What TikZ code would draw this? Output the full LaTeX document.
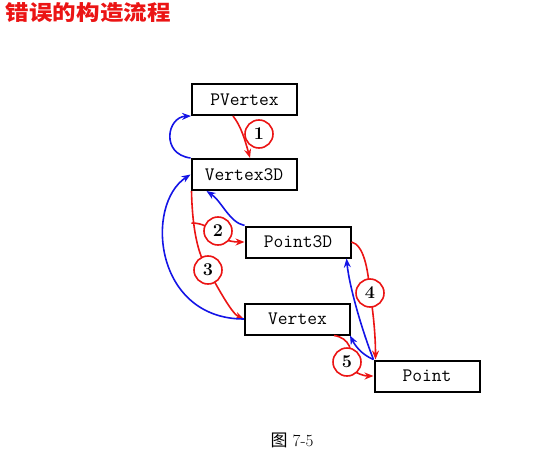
\documentclass[tikz,border=0pt]{standalone}
\usepackage{fontspec}
\newfontfamily\cjk{Noto Sans CJK SC}
\usetikzlibrary{arrows.meta,calc}
\definecolor{myred}{RGB}{235,20,20}
\definecolor{myblue}{RGB}{20,20,230}
\begin{document}
\begin{tikzpicture}[x=1pt,y=-1pt,
  cls/.style={draw,line width=2pt,minimum width=105pt,minimum height=31pt,inner sep=0pt,font=\fontsize{19}{19}\selectfont\ttfamily},
  rl/.style={draw=myred,line width=1.6pt,-{Stealth[length=9pt,width=7pt]}},
  bl/.style={draw=myblue,line width=1.6pt,-{Stealth[length=9pt,width=7pt]}},
  num/.style={circle,draw=myred,line width=1.6pt,fill=white,minimum size=28pt,inner sep=0pt,font=\fontsize{18}{18}\selectfont\bfseries}
]
\useasboundingbox (0,0) rectangle (535,460);
\node[anchor=west,text=myred,font=\cjk\bfseries\fontsize{21}{21}\selectfont,xscale=1.12] (title) at (2,13) {错误的构造流程};

\node[cls] (pv) at (244.5,99.5) {PVertex};
\node[cls] (v3) at (244,174.5) {Vertex3D};
\node[cls] (p3) at (298,242) {Point3D};
\node[cls] (vx) at (297.5,319) {Vertex};
\node[cls] (pt) at (427,376) {Point};

\coordinate (k1) at (259,134);
\coordinate (k2) at (218,231);
\coordinate (k3) at (208,270);
\coordinate (k4) at (370,293);
\coordinate (k5) at (347,362);

% 1
\draw[rl] ($(pv.south)+(-11.5,0)$) .. controls +(8,10) and +(-5,-18) .. ($(v3.north)+(6,0)$);
\draw[bl] (v3.north west) .. controls +(-30,-4) and +(-24,1) .. (pv.south west);
% 2
\draw[rl] ($(v3.south west)+(1,32)$) .. controls +(23,0) and +(-30,0) .. (p3.west);
\draw[bl] (p3.north west) .. controls +(-15,-3) and +(15,10) .. ($(v3.south west)+(16,0)$);
% 3
\draw[rl] ($(v3.south west)+(1,0)$) .. controls +(1,45) and +(-8,-12) .. (k3) .. controls +(10,18) and +(-12,-5) .. (vx.west);
\draw[bl] (vx.west) .. controls +(-90,0) and +(-46,30) .. (v3.west);
% 4
\draw[rl] (p3.east) .. controls +(12,3) and +(-2,-25) .. (k4) .. controls +(3,17) and +(0,-25) .. ($(pt.north west)+(2,0)$);
\draw[bl] (pt.north west) .. controls +(-10,-25) and +(3,30) .. ($(p3.south east)+(-5,0)$);
% 5
\draw[rl] ($(vx.south east)+(-17,0)$) .. controls +(15,2) and +(8,-10) .. (k5) .. controls +(3,10) and +(-10,0) .. (pt.west);
\draw[bl] (pt.north west) .. controls +(-12,-5) and +(5,10) .. ($(vx.south east)+(-1,0)$);

\node[num] (n1) at (k1) {1};
\node[num] (n2) at (k2) {2};
\node[num] (n3) at (k3) {3};
\node[num] (n4) at (k4) {4};
\node[num] (n5) at (k5) {5};

\node[font=\fontsize{17}{17}\selectfont] (cap) at (292,440) {{\cjk 图} 7-5};
\end{tikzpicture}
\end{document}
